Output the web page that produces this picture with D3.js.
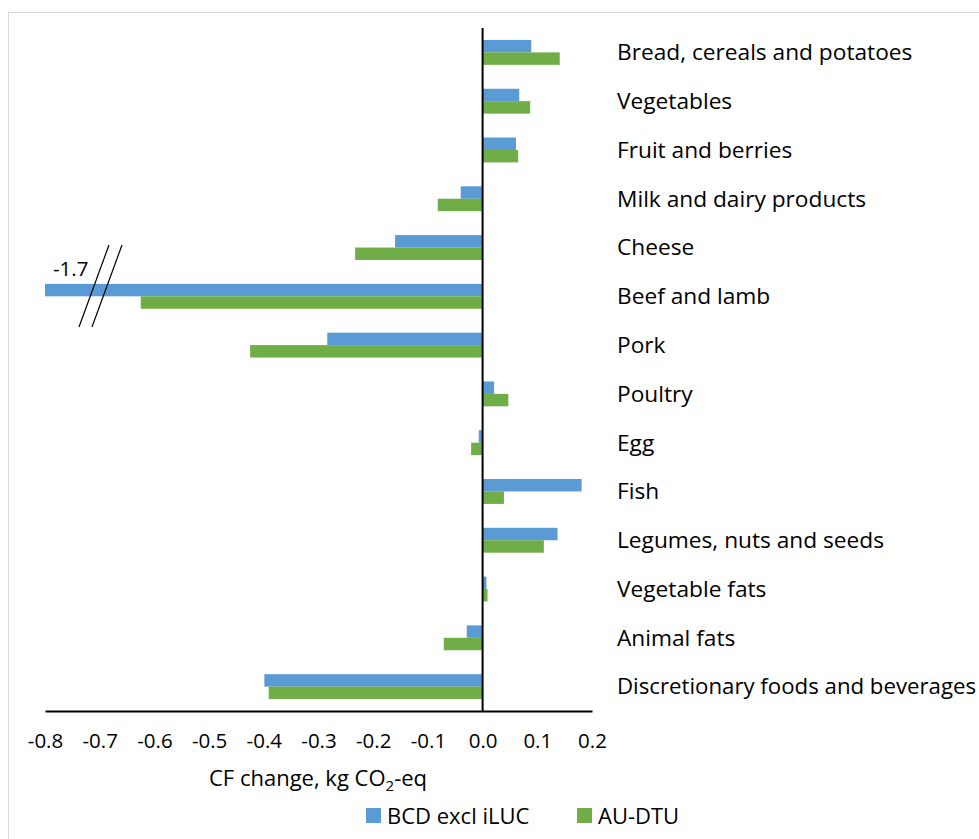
<!DOCTYPE html>
<html>
<head>
<meta charset="utf-8">
<script src="https://cdn.jsdelivr.net/npm/d3@7"></script>
<style>
  body { margin: 0; background: #fff; }
  text { font-family: "Open Sans", sans-serif; fill: #000; }
</style>
</head>
<body>
<svg id="chart" width="979" height="839"></svg>
<script>
// categories top to bottom
var categories = ["Bread, cereals and potatoes", "Vegetables", "Fruit and berries",
    "Milk and dairy products", "Cheese", "Beef and lamb", "Pork", "Poultry", "Egg",
    "Fish", "Legumes, nuts and seeds", "Vegetable fats", "Animal fats",
    "Discretionary foods and beverages"];
var bcd = [0.089, 0.067, 0.061, -0.040, -0.160, -1.7, -0.284, 0.021, -0.007, 0.181, 0.137, 0.007, -0.029, -0.399];
var audtu = [0.141, 0.087, 0.065, -0.082, -0.233, -0.625, -0.425, 0.047, -0.021, 0.039, 0.112, 0.009, -0.071, -0.391];
var seriesNames = ["BCD excl iLUC", "AU-DTU"];
var colors = ["#5B9BD5", "#70AD47"];
var xTicks = [-0.8, -0.7, -0.6, -0.5, -0.4, -0.3, -0.2, -0.1, 0.0, 0.1, 0.2];

var svg = d3.select("#chart");

// chart frame
svg.append("rect")
    .attr("x", 8.5).attr("y", 12.5)
    .attr("width", 1000).attr("height", 900)
    .attr("fill", "none").attr("stroke", "#d9d9d9");

var x = d3.scaleLinear().domain([-0.8, 0.2]).range([45, 592]).clamp(true);
var y = d3.scaleBand().domain(categories).range([28, 711]).paddingInner(0.49).paddingOuter(0.245);
var sub = d3.scaleBand().domain([0, 1]).range([0, y.bandwidth()]);

var rows = categories.map(function(c, i) { return {cat: c, vals: [bcd[i], audtu[i]]}; });

var g = svg.append("g");
var grp = g.selectAll("g.row").data(rows).enter().append("g")
    .attr("class", "row")
    .attr("transform", function(d) { return "translate(0," + y(d.cat) + ")"; });

grp.selectAll("rect").data(function(d) { return d.vals; }).enter().append("rect")
    .attr("x", function(v) { return Math.min(x(0), x(v)); })
    .attr("width", function(v) { return Math.abs(x(v) - x(0)); })
    .attr("y", function(v, i) { return sub(i); })
    .attr("height", sub.bandwidth())
    .attr("fill", function(v, i) { return colors[i]; });

// category labels (shrink a long one so it stays inside the page)
var labelX = 617, maxW = 979 - labelX - 3;
grp.append("text")
    .attr("x", labelX)
    .attr("y", y.bandwidth() / 2)
    .attr("dy", "0.35em")
    .style("font-size", "22.7px")
    .text(function(d) { return d.cat; })
    .each(function() {
        var w = this.getComputedTextLength();
        if (w > maxW) d3.select(this).style("font-size", (22.7 * maxW / w).toFixed(2) + "px");
    });

// axes
var xAxis = d3.axisBottom(x).tickValues(xTicks).tickSize(0).tickPadding(22)
    .tickFormat(function(d) { return d3.format(".1f")(d).replace("\u2212", "-"); });
var ax = svg.append("g").attr("transform", "translate(0,711)").call(xAxis);
ax.select(".domain").attr("stroke", "#000").attr("stroke-width", 2);
ax.selectAll(".tick text").style("font-size", "20.5px").attr("fill", "#000")
    .style("font-family", "'Open Sans', sans-serif");

svg.append("line")
    .attr("x1", x(0)).attr("x2", x(0))
    .attr("y1", 28).attr("y2", 711)
    .attr("stroke", "#000").attr("stroke-width", 2);

// broken-bar marker for beef
var beef = categories.indexOf("Beef and lamb");
svg.append("text")
    .attr("x", 53).attr("y", 276)
    .style("font-size", "20.5px")
    .text(bcd[beef].toFixed(1));
[0, 13].forEach(function(off) {
    svg.append("line")
        .attr("x1", 79 + off).attr("y1", 327)
        .attr("x2", 109 + off).attr("y2", 245)
        .attr("stroke", "#000").attr("stroke-width", 1.2);
});

// axis title
var title = svg.append("text")
    .attr("x", 318).attr("y", 786)
    .attr("text-anchor", "middle")
    .style("font-size", "22px");
title.append("tspan").text("CF change, kg CO");
title.append("tspan").attr("dy", 5).style("font-size", "15px").text("2");
title.append("tspan").attr("dy", -5).text("-eq");

// legend
var legX = [366, 577];
var leg = svg.selectAll("g.leg").data(seriesNames).enter().append("g")
    .attr("class", "leg")
    .attr("transform", function(d, i) { return "translate(" + legX[i] + ",808)"; });
leg.append("rect").attr("width", 15).attr("height", 15)
    .attr("fill", function(d, i) { return colors[i]; });
leg.append("text").attr("x", 21).attr("y", 8).attr("dy", "0.35em")
    .style("font-size", "22px")
    .text(function(d) { return d; });
</script>
</body>
</html>
